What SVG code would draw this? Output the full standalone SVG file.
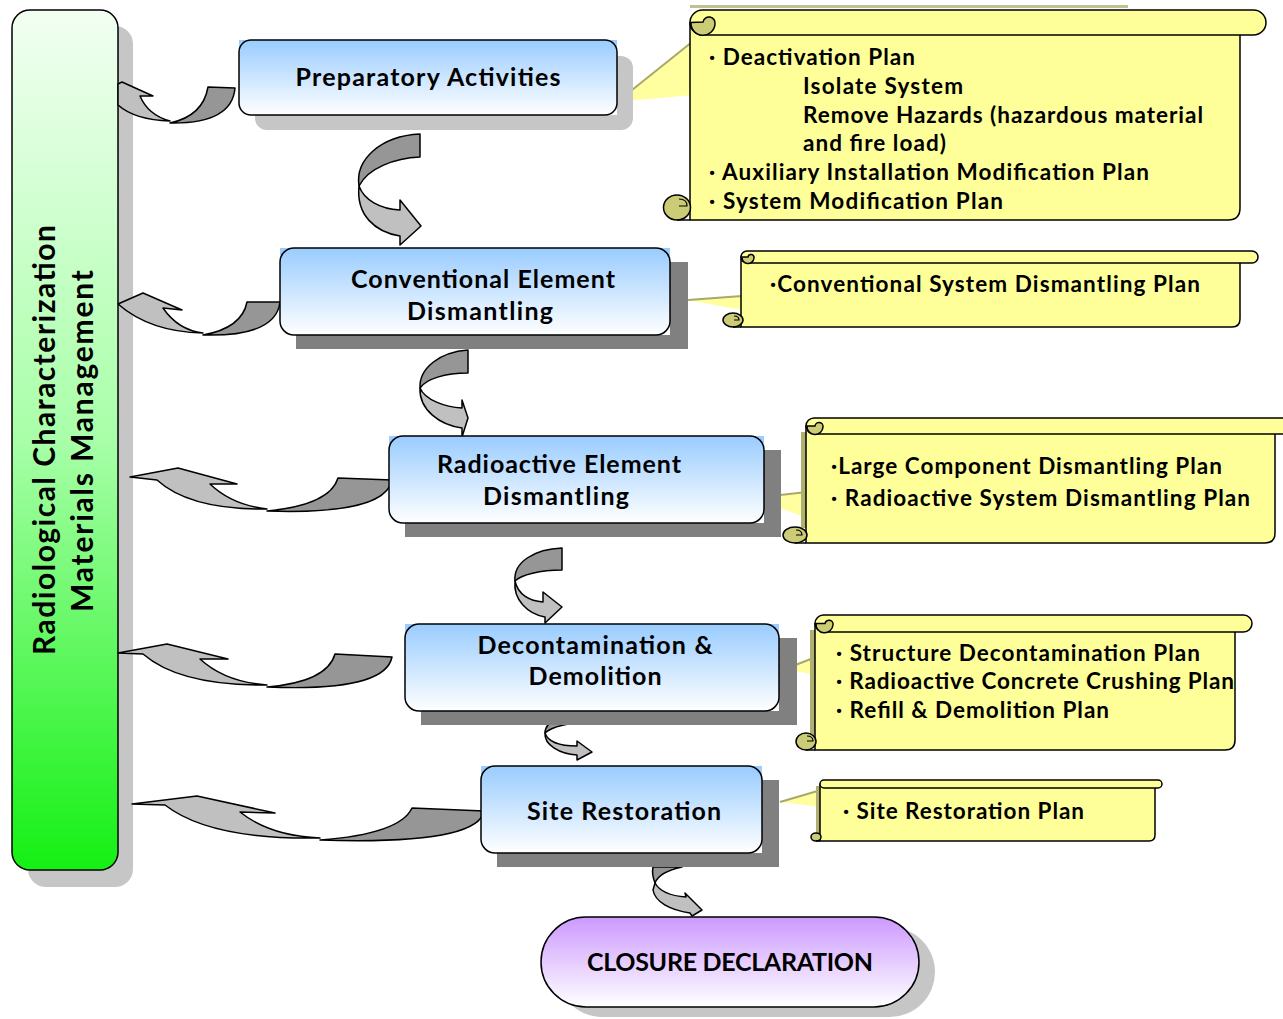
<svg xmlns="http://www.w3.org/2000/svg" width="1283" height="1019" viewBox="0 0 1283 1019">
<defs>
<linearGradient id="gBlue" x1="0" y1="0" x2="0" y2="1"><stop offset="0" stop-color="#99ccff"/><stop offset="1" stop-color="#ffffff"/></linearGradient>
<linearGradient id="gGreen" x1="0" y1="0" x2="0" y2="1"><stop offset="0" stop-color="#f2fff2"/><stop offset="0.5" stop-color="#a8ffa8"/><stop offset="1" stop-color="#14f014"/></linearGradient>
<linearGradient id="gPurple" x1="0" y1="0" x2="0" y2="1"><stop offset="0" stop-color="#cc99ff"/><stop offset="1" stop-color="#ffffff"/></linearGradient>
<style>
.lbl{font-family:Lato,"Open Sans","Liberation Sans",sans-serif;font-weight:bold;fill:#000;}
.box{font-size:25px;text-anchor:middle;}
.sc{font-size:22.5px;}
.ln{stroke:#000;stroke-width:1.5;stroke-linejoin:round;}
.lt{fill:#c0c0c0;}
.dk{fill:#969696;}
.body{fill:#ffff99;stroke:#000;stroke-width:1.5;stroke-linejoin:round;}
.curl{fill:#cccc77;stroke:#000;stroke-width:1.5;}
.hook{fill:none;stroke:#000;stroke-width:1.2;}
.wedge{fill:#ffffa0;}
.wedgeEdge{fill:none;stroke:#a8a868;stroke-width:2;}
.shL{fill:#c6c6c6;}
.shD{fill:#808080;}
.nb{stroke:#000;stroke-width:1.5;}
</style>
</defs>
<rect width="1283" height="1019" fill="#ffffff"/>

<!-- left bar -->
<g id="radiological-materials">
<rect class="shL" x="28" y="26" width="105" height="861" rx="18"/>
<rect x="12" y="10" width="106" height="860" rx="18" fill="url(#gGreen)" class="nb"/>
<text class="lbl" font-size="30" text-anchor="middle" transform="translate(55,440) rotate(-90)" textLength="430" lengthAdjust="spacing">Radiological Characterization</text>
<text class="lbl" font-size="30" text-anchor="middle" transform="translate(93,441) rotate(-90)" textLength="342" lengthAdjust="spacing">Materials Management</text>
</g>

<!-- connectors -->
<g id="connectors">
<!-- left return arrows -->
<path class="lt ln" d="M122,82 L153,96 L140,96 Q148,115 170,121 Q135,120 118,105 L118,84 Z"/>
<path class="dk ln" d="M208,87 L235,88 Q232,124 170,123 Q203,116 208,87 Z"/>

<path class="lt ln" d="M118,304 L143,293 L182,310 L163,308 Q178,330 203,333 Q150,332 118,304 Z"/>
<path class="dk ln" d="M247,302 L280,302 Q276,337 203,335 Q242,328 247,302 Z"/>

<path class="lt ln" d="M130,477 L178,468 L237,484 L210,484 Q232,505 267,509 Q190,510 157,480 Z"/>
<path class="dk ln" d="M338,478 L392,480 Q385,515 267,511 Q330,505 338,478 Z"/>

<path class="lt ln" d="M118,653 L167,644 L228,659 L200,659 Q225,682 267,685 Q180,686 143,654 Z"/>
<path class="dk ln" d="M335,654 L392,657 Q385,692 267,687 Q327,682 335,654 Z"/>

<path class="lt ln" d="M132,804 L197,796 L275,813 L240,812 Q270,836 320,838 Q210,840 165,805 Z"/>
<path class="dk ln" d="M412,808 L484,811 Q478,845 320,840 Q400,834 412,808 Z"/>

<!-- downward arrows -->
<path class="dk ln" d="M420,134 L420,157 C395,158 368,168 359,186 C355,160 380,136 420,134 Z"/>
<path class="lt ln" d="M359,186 C364,200 380,209 400,210 L400,200 L421,226 L400,245 L400,236 C375,232 356,215 359,186 Z"/>

<path class="dk ln" d="M468,350 L468,373 C445,373 426,379 420,388 C419,368 440,352 468,350 Z"/>
<path class="lt ln" d="M420,388 C425,400 445,407 462,408 L462,400 L468,418 L462,437 L462,428 C440,425 419,410 420,388 Z"/>

<path class="dk ln" d="M562,548 L562,570 C540,570 521,575 515,581 C513,562 535,549 562,548 Z"/>
<path class="lt ln" d="M515,581 C518,595 530,601 543,602 L543,592 L562,607 L545,623 L545,617 C528,614 513,600 515,581 Z"/>

<path class="dk ln" d="M592,712 L592,722 C570,722 551,727 545,733 C545,720 565,713 592,712 Z"/>
<path class="lt ln" d="M545,733 C548,742 560,746 577,746 L577,741 L592,752 L577,760 L577,755 C560,754 544,745 545,733 Z"/>

<path class="dk ln" d="M653,867 L682,867 C668,870 658,875 655,883 C653,878 652,872 653,867 Z"/>
<path class="lt ln" d="M655,883 C660,892 672,896 686,897 L685,893 L702,910 L692,916 L690,913 C670,910 655,902 653,890 Z"/>

<!-- callout wedges -->
<path class="wedge" d="M617,102 L692,42 L692,95 Z"/>
<path class="wedgeEdge" d="M617,102 L692,42"/>
<path class="wedge" d="M688,300 L742,296 L742,310 Z"/>
<path class="wedgeEdge" d="M688,300 L742,296"/>
<path class="wedge" d="M753,498 L807,492 L807,518 Z"/>
<path class="wedgeEdge" d="M753,498 L807,492"/>
<path class="wedge" d="M785,669 L816,657 L816,675 Z"/>
<path class="wedgeEdge" d="M785,669 L816,657"/>
<path class="wedge" d="M780,802 L821,790 L821,807 Z"/>
<path class="wedgeEdge" d="M780,802 L821,790"/>
</g>

<!-- process boxes -->
<g id="preparatory-activities">
<rect class="shL" x="255" y="56" width="378" height="74" rx="12"/>
<rect x="239" y="40" width="378" height="75" fill="url(#gBlue)"/>
<rect x="239" y="40" width="378" height="75" rx="12" fill="url(#gBlue)" class="nb"/>
<text class="lbl box" x="428" y="86" textLength="265" lengthAdjust="spacing">Preparatory Activities</text>
</g>

<g id="conventional-element-dismantling">
<rect class="shD" x="296" y="262" width="392" height="87"/>
<rect x="280" y="248" width="390" height="87" fill="url(#gBlue)"/>
<rect x="280" y="248" width="390" height="87" rx="14" fill="url(#gBlue)" class="nb"/>
<text class="lbl box" x="483" y="288" textLength="264" lengthAdjust="spacing">Conventional Element</text>
<text class="lbl box" x="480" y="320" textLength="146" lengthAdjust="spacing">Dismantling</text>
</g>

<g id="radioactive-element-dismantling">
<rect class="shD" x="405" y="450" width="376" height="87"/>
<rect x="389" y="436" width="375" height="87" fill="url(#gBlue)"/>
<rect x="389" y="436" width="375" height="87" rx="14" fill="url(#gBlue)" class="nb"/>
<text class="lbl box" x="559" y="473" textLength="244" lengthAdjust="spacing">Radioactive Element</text>
<text class="lbl box" x="556" y="505" textLength="146" lengthAdjust="spacing">Dismantling</text>
</g>

<g id="decontamination-demolition">
<rect class="shD" x="421" y="638" width="376" height="87"/>
<rect x="405" y="624" width="374" height="87" fill="url(#gBlue)"/>
<rect x="405" y="624" width="374" height="87" rx="14" fill="url(#gBlue)" class="nb"/>
<text class="lbl box" x="595" y="654" textLength="235" lengthAdjust="spacing">Decontamination &amp;</text>
<text class="lbl box" x="595" y="685" textLength="133" lengthAdjust="spacing">Demolition</text>
</g>

<g id="site-restoration">
<rect class="shD" x="497" y="780" width="282" height="87"/>
<rect x="481" y="766" width="281" height="87" fill="url(#gBlue)"/>
<rect x="481" y="766" width="281" height="87" rx="14" fill="url(#gBlue)" class="nb"/>
<text class="lbl box" x="624" y="820" textLength="194" lengthAdjust="spacing">Site Restoration</text>
</g>

<g id="closure-declaration">
<rect class="shL" x="557" y="927" width="378" height="90" rx="45"/>
<rect x="541" y="917" width="378" height="90" rx="45" fill="url(#gPurple)" class="nb"/>
<text class="lbl" font-size="25" text-anchor="middle" x="730" y="971" textLength="286" lengthAdjust="spacing">CLOSURE DECLARATION</text>
</g>

<!-- scrolls -->
<g id="scroll-preparatory">
<rect x="690" y="5" width="438" height="3" fill="#c0c090"/>
<path class="body" d="M690,22.5 H1240 V208 Q1240,220 1228,220 H690 Z"/>
<ellipse class="curl" cx="677" cy="207.5" rx="13.5" ry="12.5"/>
<path class="hook" d="M679,199 q8,0 8,7 l-8,0"/>
<path class="ln" d="M677,220 H690" fill="none"/>
<rect class="body" x="690" y="10" width="576" height="25" rx="12.5"/>
<path class="curl" d="M691,22.5 A12,12 0 0 0 715,24 A6,6 0 0 0 703,22 Z"/>
<text class="lbl sc" x="709" y="65" textLength="206" lengthAdjust="spacing">· Deactivation Plan</text>
<text class="lbl sc" x="803" y="94" textLength="160" lengthAdjust="spacing">Isolate System</text>
<text class="lbl sc" x="803" y="123" textLength="400" lengthAdjust="spacing">Remove Hazards (hazardous material</text>
<text class="lbl sc" x="803" y="151" textLength="143" lengthAdjust="spacing">and fire load)</text>
<text class="lbl sc" x="709" y="180" textLength="440" lengthAdjust="spacing">· Auxiliary Installation Modification Plan</text>
<text class="lbl sc" x="709" y="209" textLength="294" lengthAdjust="spacing">· System Modification Plan</text>
</g>

<g id="scroll-conventional">
<path class="body" d="M741,257 H1240 V319 Q1240,327 1232,327 H741 Z"/>
<ellipse class="curl" cx="733" cy="320" rx="10" ry="7"/>
<path class="hook" d="M734,316 q5,0 5,4 l-5,0"/>
<path class="ln" d="M733,327 H741" fill="none"/>
<rect class="body" x="741" y="251" width="517" height="12" rx="6"/>
<path class="curl" d="M742,257 A6,6 0 0 0 754,258 A3,3 0 0 0 748,257 Z"/>
<text class="lbl sc" x="770" y="292" textLength="430" lengthAdjust="spacing">·Conventional System Dismantling Plan</text>
</g>

<g id="scroll-radioactive">
<rect x="801" y="432" width="5" height="96" fill="#b0b070"/>
<path class="body" d="M806,426 H1275 V533 Q1275,543 1265,543 H806 Z"/>
<ellipse class="curl" cx="795" cy="535" rx="12" ry="8"/>
<path class="hook" d="M796,530 q6,0 6,5 l-6,0"/>
<path class="ln" d="M795,543 H806" fill="none"/>
<rect class="body" x="806" y="418" width="500" height="16" rx="8"/>
<path class="curl" d="M807,426 A8,8 0 0 0 823,427 A4,4 0 0 0 815,426 Z"/>
<text class="lbl sc" x="831" y="474" textLength="391" lengthAdjust="spacing">·Large Component Dismantling Plan</text>
<text class="lbl sc" x="831" y="506" textLength="419" lengthAdjust="spacing">· Radioactive System Dismantling Plan</text>
</g>

<g id="scroll-decontamination">
<rect x="810" y="630" width="5" height="105" fill="#b0b070"/>
<path class="body" d="M815,623.5 H1235 V740 Q1235,750 1225,750 H815 Z"/>
<ellipse class="curl" cx="806" cy="741.5" rx="10" ry="8.5"/>
<path class="hook" d="M807,736 q6,0 6,5 l-6,0"/>
<path class="ln" d="M806,750 H815" fill="none"/>
<rect class="body" x="815" y="615" width="437" height="17" rx="8.5"/>
<path class="curl" d="M816,623.5 A8.5,8.5 0 0 0 833,625 A4,4 0 0 0 825,623.5 Z"/>
<text class="lbl sc" x="836" y="661" textLength="364" lengthAdjust="spacing">· Structure Decontamination Plan</text>
<text class="lbl sc" x="836" y="689" textLength="398" lengthAdjust="spacing">· Radioactive Concrete Crushing Plan</text>
<text class="lbl sc" x="836" y="718" textLength="273" lengthAdjust="spacing">· Refill &amp; Demolition Plan</text>
</g>

<g id="scroll-site">
<rect x="816" y="786" width="4" height="48" fill="#b0b070"/>
<path class="body" d="M820,784 H1155 V835 Q1155,841 1149,841 H820 Z"/>
<ellipse class="curl" cx="816" cy="837" rx="5" ry="4"/>
<path class="ln" d="M816,841 H820" fill="none"/>
<rect class="body" x="820" y="780" width="342" height="8" rx="4"/>
<text class="lbl sc" x="843" y="819" textLength="241" lengthAdjust="spacing">· Site Restoration Plan</text>
</g>
</svg>
